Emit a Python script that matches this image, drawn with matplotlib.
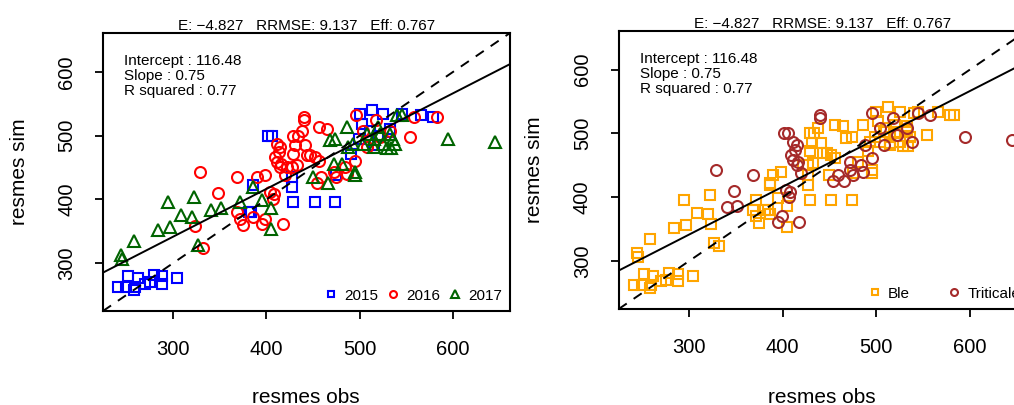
import numpy as np
import matplotlib
matplotlib.use("Agg")
import matplotlib.pyplot as plt
from matplotlib.lines import Line2D

plt.rcParams["font.family"] = ["Liberation Sans", "DejaVu Sans"]
plt.rcParams["lines.scale_dashes"] = False

# observed / simulated values, with year and crop of each point
obs = [241, 252, 250, 258, 262, 259, 270, 275, 279, 288, 288, 304,
       402, 406, 386, 381, 384, 427, 427, 429, 452, 474, 475, 491, 500, 513,
       525, 545, 566, 579, 502, 511, 533, 533, 499, 515, 520,
       329, 368, 390, 398, 348, 324, 332, 368, 372, 375, 386, 395, 399, 418,
       408, 411, 415, 413, 409, 411, 416, 415, 420, 422, 427, 433, 429, 431,
       429, 434, 438, 440, 440, 441, 443, 447, 452, 456, 456, 465, 459, 454,
       475, 484, 472, 486, 495, 504, 518, 522, 554, 583, 558, 496, 508, 533,
       407, 404,
       244, 245, 258, 284, 297, 295, 308, 320, 322, 327, 341, 351, 372, 386,
       395, 405, 405, 450, 466, 472, 481, 468, 474, 486, 495, 495, 488, 493,
       508, 515, 522, 525, 529, 534, 538, 540, 545, 533, 515, 504, 520, 536,
       595, 645]
sim = [263, 279, 263, 258, 276, 263, 268, 270, 282, 279, 268, 276,
       500, 500, 422, 380, 380, 435, 420, 396, 396, 396, 438, 472, 534, 541,
       534, 534, 533, 529, 519, 508, 511, 506, 495, 485, 500,
       443, 435, 435, 439, 410, 358, 324, 380, 370, 360, 373, 361, 370, 361,
       409, 487, 482, 474, 467, 459, 456, 451, 438, 451, 451, 454, 472, 485,
       500, 500, 508, 529, 524, 485, 469, 469, 467, 461, 514, 511, 435, 425,
       435, 451, 443, 440, 461, 508, 524, 498, 498, 529, 529, 532, 482, 508,
       400, 411,
       312, 307, 334, 352, 357, 396, 375, 373, 404, 328, 384, 386, 396, 420,
       399, 386, 354, 435, 425, 456, 456, 493, 495, 514, 443, 438, 482, 487,
       503, 495, 503, 487, 480, 480, 487, 532, 532, 503, 482, 487, 514, 495,
       495, 490]
year = ["2015"] * 37 + ["2016"] * 58 + ["2017"] * 44
# crop per point, B = Ble, T = Triticale (same order as above)
crop_2015 = "B" * 12 + "TT" + "B" * 23
crop_2016 = ("TTBBTBBBBBB" + "T" * 12 + "B" * 8 + "TT" + "B" * 7
             + "T" * 10 + "BB" + "T" * 6)
crop_2017 = ("B" * 10 + "TT" + "B" * 6 + "TTBBBBBB" + "T" + "B" * 7
             + "TBT" + "B" * 5 + "TT")
crop = ["Ble" if c == "B" else "Triticale" for c in crop_2015 + crop_2016 + crop_2017]

years = ["2015", "2016", "2017"]
year_style = {"2015": ("s", "blue"), "2016": ("o", "red"), "2017": ("^", "darkgreen")}
crops = ["Ble", "Triticale"]
crop_style = {"Ble": ("s", "orange"), "Triticale": ("o", "brown")}

title = "E: \u22124.827   RRMSE: 9.137   Eff: 0.767"
intercept, slope, r2 = 116.48, 0.75, 0.77

obs = np.array(obs, float)
sim = np.array(sim, float)
year = np.array(year)
crop = np.array(crop)

MS = {"s": 7.4, "o": 7.9, "^": 9.0}
MS_LEG = {"s": 4.8, "o": 5.0, "^": 5.8}

lo, hi = min(obs.min(), sim.min()), max(obs.max(), sim.max())
pad = 0.04 * (hi - lo)
lims = (lo - pad, hi + pad)

fig = plt.figure(figsize=(10.14, 4.05), dpi=100)
ax1 = fig.add_axes([103 / 1014, 1 - 311 / 405, 407 / 1014, 278 / 405])
ax2 = fig.add_axes([618.7 / 1014, 1 - 309 / 405, 408.3 / 1014, 278.3 / 405])


def panel(ax, key, groups, style, leg_x, colsp):
    for g in groups:
        m, c = style[g]
        sel = key == g
        ax.plot(obs[sel], sim[sel], ls="none", marker=m, ms=MS[m],
                mfc="none", mec=c, mew=1.5)
    ax.axline((0, intercept), slope=slope, color="black", lw=1.4)
    ax.axline((0, 0), slope=1, color="black", lw=1.4, ls=(0, (7, 6)))
    ax.set_xlim(lims)
    ax.set_ylim(lims)
    ax.set_xticks([300, 400, 500, 600])
    ax.set_yticks([300, 400, 500, 600])
    ax.tick_params(direction="out", length=5.8, width=1.3, labelsize=14.5)
    ax.tick_params(axis="x", pad=15)
    ax.tick_params(axis="y", pad=13.5, labelrotation=90)
    for lab in ax.get_yticklabels():
        lab.set_va("center")
    for s in ax.spines.values():
        s.set_linewidth(1.5)
    ax.set_title(title, fontsize=11, pad=0.8)
    ax.text(0.052, 0.925,
            f"Intercept : {intercept:.2f}\nSlope : {slope:.2f}\nR squared : {r2:.2f}",
            transform=ax.transAxes, ha="left", va="top", fontsize=11,
            linespacing=1.12)
    handles = [Line2D([], [], ls="none", marker=style[g][0], ms=MS_LEG[style[g][0]],
                      mfc="none", mec=style[g][1], mew=1.5) for g in groups]
    ax.legend(handles, groups, loc="lower right", bbox_to_anchor=(leg_x, 0.03),
              ncol=len(groups), frameon=False, fontsize=11, borderpad=0,
              borderaxespad=0, handlelength=0.8, handletextpad=0.45,
              columnspacing=colsp)


panel(ax1, year, years, year_style, 0.98, 0.58)
panel(ax2, crop, crops, crop_style, 0.983, 2.5)

fig.text(306 / 1014, 1 - 403 / 405, "resmes obs", ha="center", va="baseline", fontsize=15)
fig.text(822 / 1014, 1 - 403 / 405, "resmes obs", ha="center", va="baseline", fontsize=15)
fig.text(20 / 1014, 0.575, "resmes sim", rotation=90, ha="center", va="center", fontsize=15)
fig.text(534 / 1014, 0.58, "resmes sim", rotation=90, ha="center", va="center", fontsize=15)

fig.savefig("out.png", dpi=100)
